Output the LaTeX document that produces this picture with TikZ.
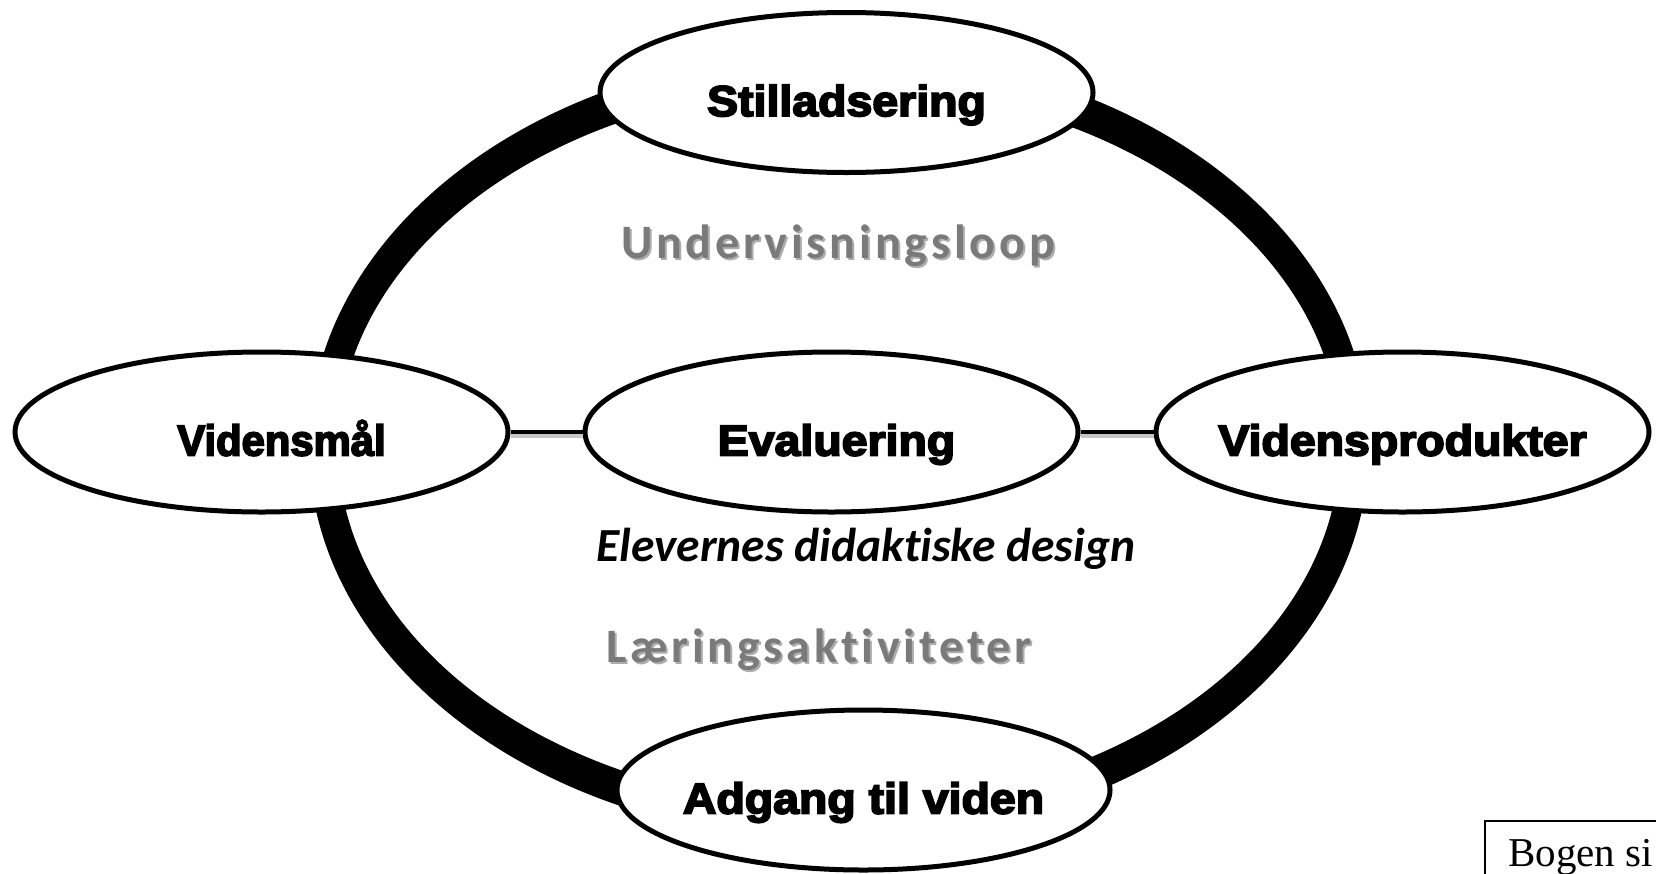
\documentclass[tikz,border=0pt]{standalone}
\usepackage{fontspec}
\usetikzlibrary{shapes.geometric}
\setmainfont{Liberation Serif}
\newfontfamily\heavyfont{Liberation Sans Bold}[FakeBold=4.4, FakeStretch=1.08]
\newfontfamily\calfont{Carlito}[Ligatures=NoCommon]
\newfontfamily\calspaced{Carlito}[LetterSpace=8, Ligatures=NoCommon]
\definecolor{loopgray}{HTML}{7A7A7A}
\definecolor{loopshade}{HTML}{4A4A4A}
% text of a bubble: zero-size box so the ellipse keeps its own size
\newcommand{\bubbletext}[2][0pt]{\makebox[0pt]{\hspace*{#1}\raisebox{-23.5pt}[0pt][0pt]{#2}}}
\tikzset{
  bubble/.style={ellipse, draw, line width=5pt, fill=white,
    minimum width=493pt, minimum height=160pt, inner sep=0pt,
    font=\heavyfont\fontsize{43}{50}\selectfont},
  link/.style={line width=3.5pt},
  linkshade/.style={line width=5pt, black!22, transform canvas={yshift=-3pt}},
  loopword/.style={inner sep=0pt, anchor=base, text=loopgray,
    font=\calspaced\bfseries\fontsize{48}{56}\selectfont},
  loopwordshade/.style={loopword, text=loopshade, opacity=0.45},
}
\begin{document}
\begin{tikzpicture}[x=1pt, y=-1pt]
  \useasboundingbox (0,0) rectangle (1656,873);
  \clip (0,0) rectangle (1656,873);

  % the thick teaching loop
  \fill[black, even odd rule]
    (839,446) ellipse [x radius=530pt, y radius=395pt]
    (839,446) ellipse [x radius=501pt, y radius=360pt];

  % loop labels
  \node[loopwordshade] (uloops) at (840,260) {Undervisningsloop};
  \node[loopword] (uloop) at (838,258) {Undervisningsloop};
  \node[loopwordshade] (laerings) at (821,664) {Læringsaktiviteter};
  \node[loopword] (laer) at (819,662) {Læringsaktiviteter};

  % bubbles
  \node[bubble] (st) at (846.5,92.5) {\bubbletext{Stilladsering}};
  \node[bubble] (vm) at (261.5,432) {\bubbletext[40pt]{\scalebox{0.9}[1]{Vidensmål}}};
  \node[bubble] (ev) at (831.5,432) {\bubbletext[10pt]{Evaluering}};
  \node[bubble] (vp) at (1402.5,432) {\bubbletext{Vidensprodukter}};
  \node[bubble] (ad) at (863.5,790) {\bubbletext{Adgang til viden}};

  % links between the middle bubbles
  \draw[linkshade] (vm.east) -- (ev.west);
  \draw[linkshade] (ev.east) -- (vp.west);
  \draw[link] (vm.east) -- (ev.west);
  \draw[link] (ev.east) -- (vp.west);

  % caption under Evaluering
  \node[inner sep=0pt, anchor=base, font=\calfont\bfseries\itshape\fontsize{47.5}{54}\selectfont]
    (design) at (866,561) {Elevernes didaktiske design};

  % reference box in the corner
  \draw[line width=2pt] (1485,821) rectangle (1700,920);
  \node[inner sep=0pt, anchor=base west, font=\fontsize{41}{46}\selectfont]
    (bogen) at (1508,866) {Bogen si};
\end{tikzpicture}
\end{document}
